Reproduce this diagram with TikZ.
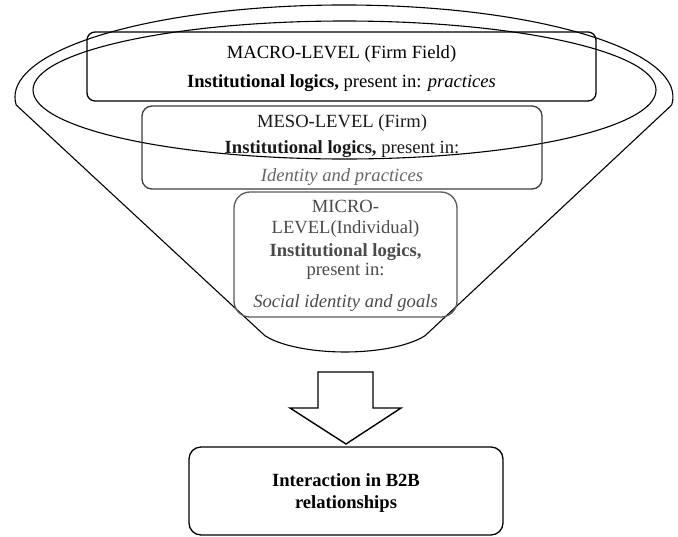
\documentclass[tikz,border=0pt]{standalone}
\usepackage{fontspec}
\setmainfont{Liberation Serif}
\definecolor{mesoline}{HTML}{3C3C3C}
\definecolor{microline}{HTML}{5A5A5A}
\definecolor{microtext}{HTML}{4A4A4A}
\definecolor{mesogray}{HTML}{666666}
\begin{document}
\begin{tikzpicture}[x=1pt,y=-1pt,
  outline/.style={draw=black,line width=1.1pt,line join=round},
  lvlbox/.style={draw,rectangle,line width=1.3pt,inner sep=0pt},
  txt/.style={anchor=base,inner sep=0pt,font=\fontsize{18.6}{22}\selectfont}]
\useasboundingbox (0,0) rectangle (678,536);
% funnel
\coordinate (outerR) at (671.7,105.0);
\coordinate (botL) at (264.8,335.6);
\draw[outline] (outerR) arc[start angle=5,end angle=-185,x radius=329,y radius=92]
  -- (botL) arc[start angle=153,end angle=27,x radius=90,y radius=30] -- cycle;
\draw[outline] (344.5,90) ellipse[x radius=311.5,y radius=69];
% boxes
\node[lvlbox,draw=black,rounded corners=8pt,minimum width=509pt,minimum height=69pt] (macro) at (341.5,66.5) {};
\node[lvlbox,draw=mesoline,rounded corners=10pt,minimum width=400pt,minimum height=83pt] (meso) at (342,147.5) {};
\node[lvlbox,draw=microline,rounded corners=16pt,minimum width=223pt,minimum height=125pt] (micro) at (345.5,254.5) {};
\node[lvlbox,draw=black,rounded corners=12pt,minimum width=314pt,minimum height=88pt] (result) at (346,491) {};
% texts
\node[txt] (macroA) at (341.5,58) {MACRO-LEVEL (Firm Field)};
\node[txt] (macroB) at (341.5,87) {\textbf{Institutional logics,} present in: \textit{practices}};
\node[txt,text=black!90] (mesoA) at (342,127) {MESO-LEVEL (Firm)};
\node[txt,text=black!90] (mesoB) at (342,153) {\textbf{Institutional logics,} present in:};
\node[txt,text=mesogray] (mesoC) at (342,181) {\textit{Identity and practices}};
\node[txt,text=microtext] (microA) at (345.5,212) {MICRO-};
\node[txt,text=microtext] (microB) at (345.5,233) {LEVEL(Individual)};
\node[txt,text=microtext] (microC) at (345.5,256) {\textbf{Institutional logics,}};
\node[txt,text=microtext] (microD) at (345.5,275) {present in:};
\node[txt,text=microtext] (microE) at (345.5,307) {\textit{Social identity and goals}};
\node[txt] (resA) at (346,486) {\textbf{Interaction in B2B}};
\node[txt] (resB) at (346,508) {\textbf{relationships}};
% arrow
\coordinate (a1) at (318,372); \coordinate (a2) at (373,372);
\coordinate (a3) at (373,408); \coordinate (a4) at (401,408);
\coordinate (a5) at (346,444); \coordinate (a6) at (290,408);
\coordinate (a7) at (318,408);
\draw[outline,line width=1.4pt,line join=miter] (a1) -- (a2) -- (a3) -- (a4) -- (a5) -- (a6) -- (a7) -- cycle;
\end{tikzpicture}
\end{document}
